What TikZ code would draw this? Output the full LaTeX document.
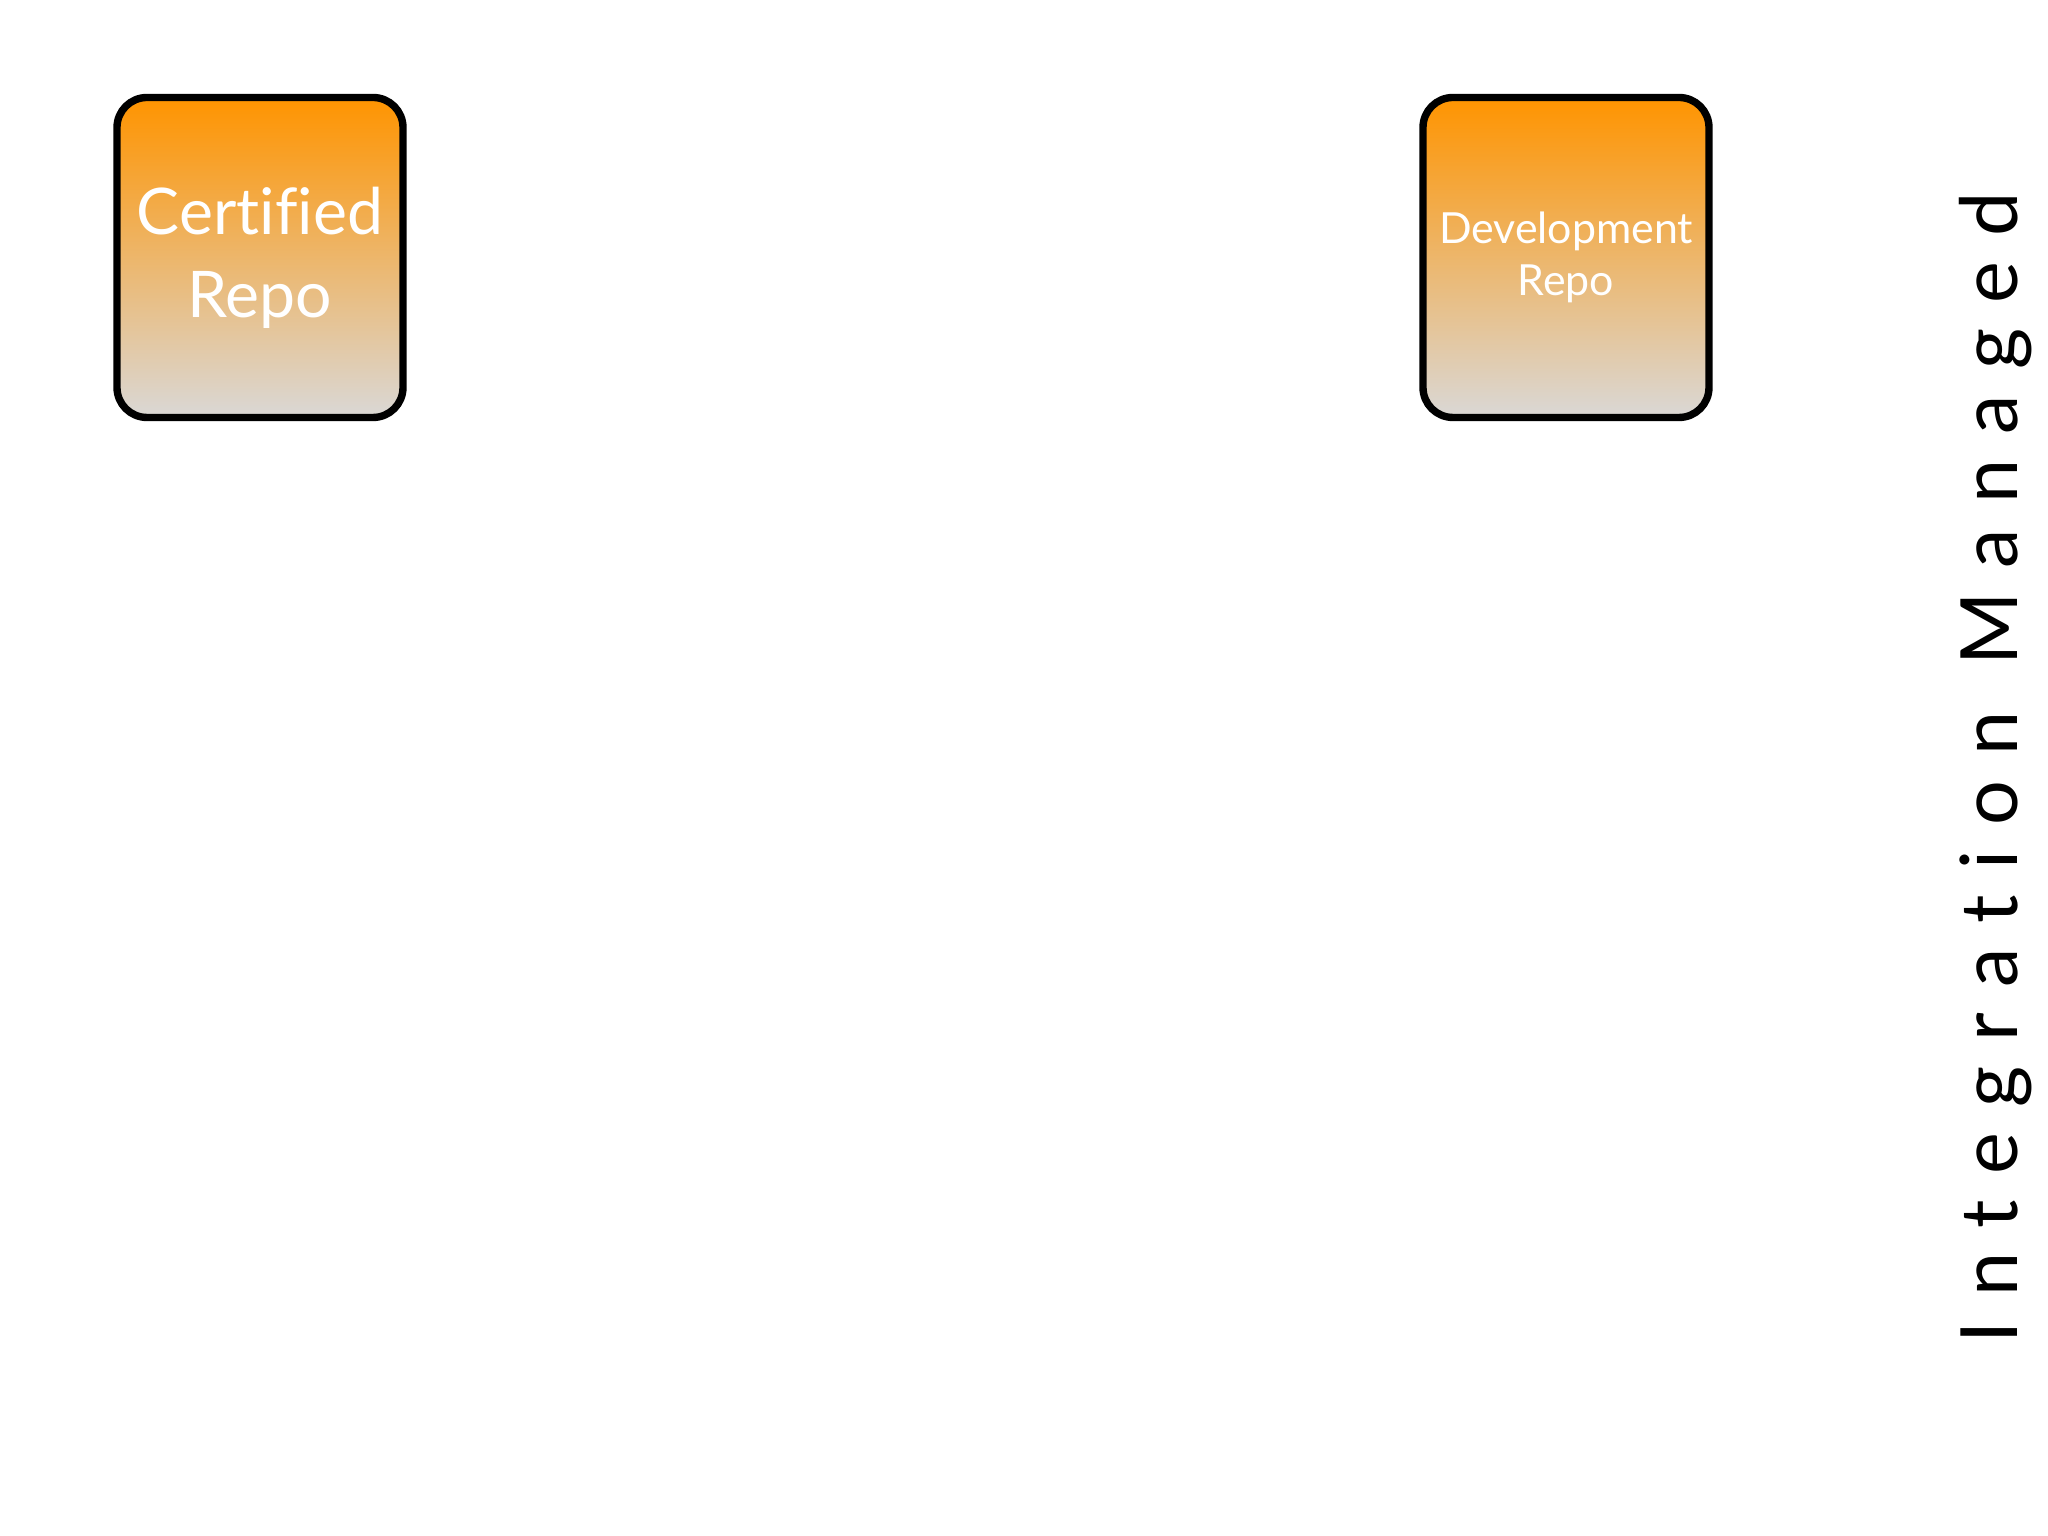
\documentclass[tikz,border=0pt]{standalone}
\usepackage{fontspec}
\setmainfont{Lato}[Ligatures=NoCommon]
\newfontfamily\spacedfont[LetterSpace=32, Ligatures=NoCommon]{Lato}
\definecolor{repotop}{HTML}{FF9400}
\definecolor{repobottom}{HTML}{DAD8D6}
\tikzset{
  repo/.style={draw=black, line width=2.1pt, rounded corners=0.3cm,
    top color=repotop, bottom color=repobottom, text=white, align=center,
    minimum width=2.86cm, minimum height=3.2cm, inner sep=0pt},
  title/.style={rotate=90, anchor=base west, inner sep=0pt,
    font=\spacedfont\fontsize{22.5}{27}\selectfont}
}

\begin{document}
\begin{tikzpicture}
                \fill [white] (0, 0) rectangle (20.48, 15.36);
                \useasboundingbox (0, 0) rectangle (20.48, 15.36);
                % the two repositories
                \node [repo, font=\fontsize{18.3}{23.6}\selectfont] (certified) at (2.6, 12.785) {Certified\\Repo};
                \node [repo, font=\fontsize{12.2}{14.8}\selectfont] (development) at (15.66, 12.785) {Development\\Repo};
                % side title
                \node [title] (managed) at (20.17, 1.915) {Integration Managed};
            \end{tikzpicture}
\end{document}
